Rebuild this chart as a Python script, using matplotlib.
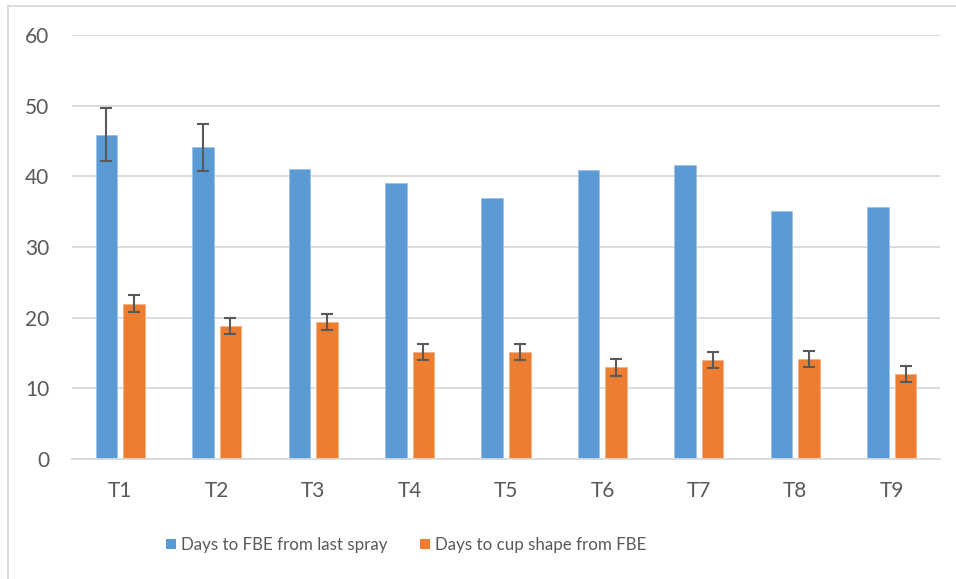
import matplotlib.pyplot as plt
import numpy as np
from matplotlib.lines import Line2D
from matplotlib.patches import Patch

plt.rcParams["font.family"] = ["Lato", "DejaVu Sans"]

# values
treatments = ["T1", "T2", "T3", "T4", "T5", "T6", "T7", "T8", "T9"]
fbe_days = [45.9, 44.1, 41.0, 39.0, 37.0, 40.85, 41.55, 35.05, 35.6]
fbe_err = [3.7, 3.35, 0, 0, 0, 0, 0, 0, 0]
cup_days = [22.0, 18.8, 19.35, 15.1, 15.15, 12.95, 14.05, 14.15, 12.0]
cup_err = [1.15, 1.15, 1.15, 1.15, 1.15, 1.15, 1.15, 1.15, 1.15]
series_labels = ["Days to FBE from last spray", "Days to cup shape from FBE"]

BLUE = "#5B9BD5"
ORANGE = "#ED7D31"
TEXT = "#595959"
GRID = "#D9D9D9"

W, H = 956, 579
fig = plt.figure(figsize=(W / 100, H / 100), dpi=100)
ax = fig.add_axes([72 / W, 1 - 459 / H, (940 - 72) / W, (459 - 35) / H])

x = np.arange(len(treatments))
width = 0.223
off = 0.143

ax.bar(x - off, fbe_days, width, color=BLUE, edgecolor="#9DC3E6", linewidth=0.6, zorder=2)
ax.bar(x + off, cup_days, width, color=ORANGE, edgecolor="#F4B183", linewidth=0.6, zorder=2)

# capsize is half the cap length in matplotlib
err_kw = dict(fmt="none", ecolor=TEXT, elinewidth=1.5, capsize=4, capthick=1.5, zorder=3)
has = [i for i, e in enumerate(fbe_err) if e > 0]
ax.errorbar(x[has] - off, [fbe_days[i] for i in has], yerr=[fbe_err[i] for i in has], **err_kw)
ax.errorbar(x + off, cup_days, yerr=cup_err, **err_kw)

ax.set_xlim(-0.5, len(treatments) - 0.5)
ax.set_ylim(0, 60)
ax.set_yticks(range(0, 61, 10))
ax.set_xticks(x)
ax.set_xticklabels(treatments)
ax.yaxis.grid(True, color=GRID, linewidth=1.3, zorder=0)
ax.set_axisbelow(True)
for s in ["top", "right", "left"]:
    ax.spines[s].set_visible(False)
ax.spines["bottom"].set_color(GRID)
ax.spines["bottom"].set_linewidth(1.3)
ax.tick_params(axis="both", length=0, labelsize=15, labelcolor=TEXT)
ax.tick_params(axis="y", pad=16.5)
ax.tick_params(axis="x", pad=16)

# legend sits left of centre in the cropped original
handles = [Patch(facecolor=BLUE), Patch(facecolor=ORANGE)]
fig.legend(handles, series_labels, loc="center", bbox_to_anchor=(406 / W, 1 - 545 / H),
           ncol=2, frameon=False, fontsize=12.2, labelcolor=TEXT,
           handlelength=0.6, handleheight=0.6, handletextpad=0.3, columnspacing=1.9)

# light chart-area border (left and top edges visible in the crop)
fig.add_artist(Line2D([8 / W, 8 / W], [0, 1 - 6 / H], color=GRID, linewidth=1.3))
fig.add_artist(Line2D([8 / W, 1], [1 - 6 / H, 1 - 6 / H], color=GRID, linewidth=1.3))

fig.savefig("out.png", dpi=100)
